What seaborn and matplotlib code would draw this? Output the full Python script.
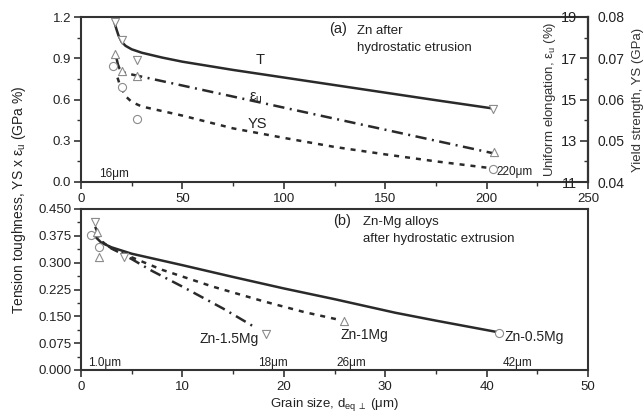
import numpy as np
import pandas as pd
import matplotlib
matplotlib.use("Agg")
import matplotlib.pyplot as plt
from matplotlib.ticker import MultipleLocator, FixedLocator, FormatStrFormatter
import seaborn as sns

# ---------------- data: panel (a) Zn after hydrostatic extrusion ----------------
grain_a = [16.8, 20.0, 27.4, 203.3]
T_pts = [1.166, 1.03, 0.887, 0.529]            # tension toughness, GPa %
eu_grain = [16.7, 20.0, 27.4, 203.5]
eu_pts = [17.19, 16.38, 16.14, 12.45]          # uniform elongation, %
ys_grain = [15.9, 20.0, 27.4, 203.0]
ys_pts = [0.0682, 0.0631, 0.0552, 0.0431]      # yield strength, GPa

T_fit_x = [16.5, 17.5, 18.5, 20, 22, 25, 30, 40, 50, 75, 100, 125, 150, 175, 203]
T_fit_y = [1.16, 1.11, 1.065, 1.02, 0.99, 0.965, 0.94, 0.905, 0.875, 0.815, 0.76, 0.705,
           0.65, 0.595, 0.535]
eu_fit_x = [17.5, 18.2, 19.0, 20, 22, 27, 203]
eu_fit_y = [17.0, 16.7, 16.5, 16.38, 16.28, 16.17, 12.4]
ys_fit_x = [18, 19, 20, 22, 25, 30, 40, 50, 75, 100, 125, 150, 175, 203]
ys_fit_y = [0.0653, 0.0638, 0.0627, 0.0608, 0.0594, 0.0583, 0.0572, 0.0561, 0.0530, 0.0507,
            0.0485, 0.0467, 0.0450, 0.0433]

# ---------------- data: panel (b) Zn-Mg alloys ----------------
mg05_x = [1.0, 1.74, 41.25]
mg05_y = [0.378, 0.343, 0.104]
mg1_x = [1.6, 1.74, 25.9]
mg1_y = [0.387, 0.317, 0.137]
mg15_x = [1.35, 4.2, 18.2]
mg15_y = [0.413, 0.317, 0.100]

mg05_fit_x = [1.5, 2, 3, 5, 7.5, 10, 15, 20, 25, 31, 35, 41.25]
mg05_fit_y = [0.37, 0.356, 0.343, 0.325, 0.309, 0.293, 0.26, 0.228, 0.198, 0.16, 0.138, 0.105]
mg1_fit_x = [1.6, 2, 3, 5, 8, 13, 18, 22, 25.5]
mg1_fit_y = [0.385, 0.36, 0.34, 0.315, 0.28, 0.233, 0.192, 0.162, 0.14]
mg15_fit_x = [1.4, 2, 3, 5, 7, 10, 14, 17.3]
mg15_fit_y = [0.40, 0.36, 0.34, 0.31, 0.277, 0.233, 0.172, 0.117]

# ---------------- style ----------------
sns.set_theme(style="ticks")
plt.rcParams["font.family"] = ["Liberation Sans", "DejaVu Sans"]
plt.rcParams["mathtext.default"] = "regular"
plt.rcParams["axes.edgecolor"] = "#333333"
plt.rcParams["axes.linewidth"] = 1.5

LINE = "#2a2a2a"
MK = "#8c8c8c"
FS = 9.5
SMALL = 8.5

fig = plt.figure(figsize=(6.44, 4.16), dpi=100)
W, H = 644, 416
def rect(x0, y0, x1, y1):
    return [x0 / W, 1 - y1 / H, (x1 - x0) / W, (y1 - y0) / H]

ax = fig.add_axes(rect(81, 17, 588, 182))
axb = fig.add_axes(rect(81, 209, 588, 370))

def style_ticks(a):
    a.tick_params(axis="both", which="major", direction="out", length=5, width=1.2,
                  colors="#333333", labelcolor="#222222", labelsize=FS, pad=2)
    a.tick_params(axis="both", which="minor", direction="out", length=3, width=1.0,
                  colors="#333333")
    for s in a.spines.values():
        s.set_visible(True)
        s.set_linewidth(1.5)
        s.set_color("#333333")

def scat(a, x, y, marker):
    sns.scatterplot(x=x, y=y, ax=a, marker=marker, s=34, color="white",
                    edgecolor=MK, linewidth=0.8, zorder=3, legend=False)

def line(a, x, y, ls):
    sns.lineplot(x=x, y=y, ax=a, color=LINE, linewidth=1.8, linestyle=ls,
                 sort=False, estimator=None, zorder=2, legend=False)

DASHDOT = (0, (4.5, 2.2, 0.8, 2.2))
DOTTED = (0, (2.0, 2.4))

# ---------------- panel (a) ----------------
ax_e = ax.twinx()
ax_y = ax.twinx()

ax.set_xlim(0, 250)
ax.set_ylim(0, 1.2)
ax_e.set_ylim(11, 19)
ax_y.set_ylim(0.04, 0.08)

line(ax, T_fit_x, T_fit_y, "-")
scat(ax, grain_a, T_pts, "v")
line(ax_e, eu_fit_x, eu_fit_y, DASHDOT)
scat(ax_e, eu_grain, eu_pts, "^")
line(ax_y, ys_fit_x, ys_fit_y, DOTTED)
scat(ax_y, ys_grain, ys_pts, "o")

style_ticks(ax)
ax.xaxis.set_major_locator(MultipleLocator(50))
ax.xaxis.set_minor_locator(MultipleLocator(25))
ax.yaxis.set_major_locator(MultipleLocator(0.3))
ax.yaxis.set_minor_locator(MultipleLocator(0.15))
ax.yaxis.set_major_formatter(FormatStrFormatter("%.1f"))
ax.tick_params(top=False, right=False, which="both")
ax.tick_params(axis="x", pad=3)
ax.set_xlabel("")
ax.set_ylabel("")

# elongation axis: ticks/labels on inner side of the right spine
for s in ax_e.spines.values():
    s.set_visible(False)
ax_e.spines["left"].set_visible(True)
ax_e.spines["left"].set_position(("axes", 1.0))
ax_e.spines["left"].set_linewidth(1.5)
ax_e.spines["left"].set_color("#333333")
ax_e.yaxis.set_ticks_position("left")
ax_e.yaxis.set_label_position("left")
ax_e.yaxis.set_major_locator(FixedLocator([11, 13, 15, 17, 19]))
ax_e.yaxis.set_minor_locator(FixedLocator([12, 14, 16, 18]))
ax_e.tick_params(axis="y", which="major", direction="out", length=6, width=1.2,
                 colors="#333333", labelcolor="#222222", labelsize=FS + 1, pad=2)
ax_e.tick_params(axis="y", which="minor", direction="out", length=3, width=1.0,
                 colors="#333333")
ax_e.set_ylabel("Uniform elongation, ε$_{u}$ (%)", fontsize=9.5, color="#333333",
                labelpad=2)
ax_e.set_xlabel("")

# yield strength axis outside right
for s in ax_y.spines.values():
    s.set_visible(False)
ax_y.spines["right"].set_visible(True)
ax_y.spines["right"].set_linewidth(1.5)
ax_y.spines["right"].set_color("#333333")
ax_y.yaxis.set_major_locator(MultipleLocator(0.01))
ax_y.yaxis.set_major_formatter(FormatStrFormatter("%.2f"))
ax_y.tick_params(axis="y", which="major", length=0, labelsize=FS + 0.5,
                 labelcolor="#222222", pad=7)
ax_y.set_ylabel("Yield strength, YS (GPa)", fontsize=9.5, color="#333333", labelpad=5)
ax_y.set_xlabel("")

ax.text(86, 0.86, "T", fontsize=FS + 1, color="#222222")
ax.text(83, 0.59, "ε$_{u}$", fontsize=FS + 1, color="#222222")
ax.text(82, 0.39, "YS", fontsize=FS + 1, color="#222222")
ax.text(9, 0.04, "16μm", fontsize=SMALL, color="#222222")
ax.text(205, 0.05, "220μm", fontsize=SMALL, color="#222222")
ax.text(122.5, 1.08, "(a)", fontsize=FS + 1, color="#222222")
ax.text(136, 1.08, "Zn after", fontsize=FS, color="#222222")
ax.text(136, 0.955, "hydrostatic etrusion", fontsize=FS, color="#222222")

# ---------------- panel (b) ----------------
axb.set_xlim(0, 50)
axb.set_ylim(0, 0.45)
line(axb, mg05_fit_x, mg05_fit_y, "-")
line(axb, mg1_fit_x, mg1_fit_y, DOTTED)
line(axb, mg15_fit_x, mg15_fit_y, DASHDOT)
scat(axb, mg05_x, mg05_y, "o")
scat(axb, mg1_x, mg1_y, "^")
scat(axb, mg15_x, mg15_y, "v")

style_ticks(axb)
axb.xaxis.set_major_locator(MultipleLocator(10))
axb.xaxis.set_minor_locator(MultipleLocator(5))
axb.yaxis.set_major_locator(MultipleLocator(0.075))
axb.yaxis.set_minor_locator(MultipleLocator(0.0375))
axb.yaxis.set_major_formatter(FormatStrFormatter("%.3f"))
axb.tick_params(top=False, right=False, which="both")
axb.tick_params(axis="x", pad=3)
axb.set_ylabel("")
axb.set_xlabel("Grain size, d$_{eq\\,\\perp}$ (μm)", fontsize=FS, color="#222222",
               labelpad=2)

axb.text(24.9, 0.405, "(b)", fontsize=FS + 1, color="#222222")
axb.text(27.8, 0.405, "Zn-Mg alloys", fontsize=FS, color="#222222")
axb.text(27.8, 0.357, "after hydrostatic extrusion", fontsize=FS, color="#222222")
axb.text(11.7, 0.075, "Zn-1.5Mg", fontsize=FS + 0.5, color="#222222")
axb.text(25.6, 0.088, "Zn-1Mg", fontsize=FS + 0.5, color="#222222")
axb.text(41.8, 0.082, "Zn-0.5Mg", fontsize=FS + 0.5, color="#222222")
axb.text(0.7, 0.012, "1.0μm", fontsize=SMALL, color="#222222")
axb.text(17.5, 0.012, "18μm", fontsize=SMALL, color="#222222")
axb.text(25.2, 0.012, "26μm", fontsize=SMALL, color="#222222")
axb.text(41.6, 0.012, "42μm", fontsize=SMALL, color="#222222")

fig.text(19 / W, 1 - 200 / H, "Tension toughness, YS x ε$_{u}$ (GPa %)",
         rotation=90, ha="center", va="center", fontsize=FS + 0.5, color="#222222")

fig.savefig("out.png", dpi=100)
